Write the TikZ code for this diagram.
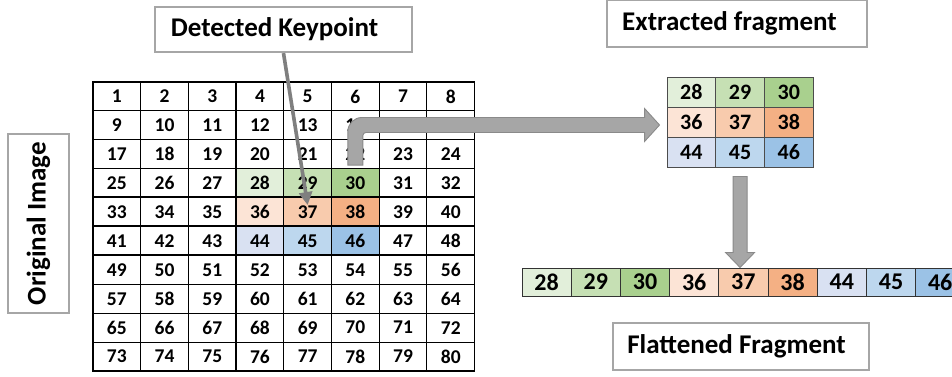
\documentclass[tikz,border=0pt]{standalone}
\usepackage{fontspec}
\setmainfont{Carlito}
\usetikzlibrary{calc,arrows.meta}
\definecolor{g1}{HTML}{E2EFDA}
\definecolor{g2}{HTML}{C6E0B4}
\definecolor{g3}{HTML}{A9D08E}
\definecolor{o1}{HTML}{FCE4D6}
\definecolor{o2}{HTML}{F8CBAD}
\definecolor{o3}{HTML}{F4B084}
\definecolor{b1}{HTML}{D9E1F2}
\definecolor{b2}{HTML}{BDD7EE}
\definecolor{b3}{HTML}{9BC2E6}
\definecolor{boxgray}{HTML}{A6A6A6}
\definecolor{arrfill}{HTML}{A6A6A6}
\definecolor{arredge}{HTML}{8A8A8A}
\definecolor{kpgray}{HTML}{7F7F7F}
\tikzset{
  cell/.style={draw=black, line width=1.1pt, inner sep=0pt, minimum width=47.7pt, minimum height=28.9pt, font=\bfseries\fontsize{19.5}{22}\selectfont},
  fcell/.style={draw=black!70, line width=0.9pt, inner sep=0pt, minimum width=48.7pt, minimum height=30pt, font=\bfseries\fontsize{22}{24}\selectfont},
  lcell/.style={draw=black!80, line width=1pt, inner sep=0pt, minimum width=49.2pt, minimum height=28pt, font=\bfseries\fontsize{24}{26}\selectfont},
  labelbox/.style={draw=boxgray, line width=2.2pt, fill=white, inner sep=0pt, font=\bfseries\fontsize{27}{30}\selectfont},
  blockarrow/.style={fill=arrfill, draw=arredge, line width=0.9pt},
  kparrow/.style={draw=kpgray, line width=3.6pt, -{Triangle[width=13pt,length=13pt]}},
  cellfill 28/.style={fill=g1}, cellfill 29/.style={fill=g2}, cellfill 30/.style={fill=g3},
  cellfill 36/.style={fill=o1}, cellfill 37/.style={fill=o2}, cellfill 38/.style={fill=o3},
  cellfill 44/.style={fill=b1}, cellfill 45/.style={fill=b2}, cellfill 46/.style={fill=b3},
}
\begin{document}
\begin{tikzpicture}[x=1pt,y=-1pt]
\clip (0,0) rectangle (952,376);
\fill[white] (0,0) rectangle (952,376);
% original grid
\foreach \r in {1,...,10}{
  \foreach \c in {1,...,8}{
    \pgfmathtruncatemacro\n{(\r-1)*8+\c}
    \node[cell, cellfill \n/.try] (c\n) at ({93+(\c-0.5)*47.7},{82+(\r-0.5)*28.9}) {\n};
  }
}
% thicker lines
\draw[line width=1.8pt] (c33.north west) -- (c40.north east);
\draw[line width=1.8pt] (c41.north west) -- (c48.north east);
\draw[line width=1.8pt] (c49.north west) -- (c56.north east);
\draw[line width=1.5pt] (c4.north west) -- (c76.south west);
% extracted fragment
\foreach \v [count=\i from 0] in {28,29,30,36,37,38,44,45,46}{
  \pgfmathtruncatemacro\cc{mod(\i,3)}
  \pgfmathtruncatemacro\rr{int(\i/3)}
  \node[fcell, cellfill \v/.try] (f\v) at ({667+(\cc+0.5)*48.7},{77+(\rr+0.5)*30}) {\v};
}
% flattened fragment
\foreach \v [count=\i from 0] in {28,29,30,36,37,38,44,45,46}{
  \node[lcell, cellfill \v/.try] (l\v) at ({522+(\i+0.5)*49.2},282) {\v};
}
% text boxes
\node[labelbox, minimum width=257pt, minimum height=45pt] (kp) at (283.5,29.5) {Detected Keypoint\kern18pt};
\node[labelbox, minimum width=260pt, minimum height=47pt] (ex) at (737,23.5) {Extracted fragment\kern15pt};
\node[labelbox, minimum width=256pt, minimum height=47pt] (fl) at (741,346.5) {Flattened Fragment\kern9pt};
\node[labelbox, rotate=90, minimum width=179pt, minimum height=61pt] (oi) at (38.5,223.5) {Original Image};
% bent block arrow from grid to extracted fragment
\coordinate (bA) at ($(c30.north)+(-7.5,-3)$);
\coordinate (bB) at ($(c30.north)+(7.5,-3)$);
\coordinate (tipA) at ($(f36.west)+(-7,3)$);
\coordinate (hU) at ($(tipA)+(-15,-7.5)$);
\coordinate (hL) at ($(tipA)+(-15,7.5)$);
\draw[blockarrow] (bA) [rounded corners=14pt] -- (bA |- hU) [sharp corners] -- (hU) -- ++(0,-9) -- (tipA) -- ($(hL)+(0,9)$) -- (hL) [rounded corners=3pt] -- (bB |- hL) [sharp corners] -- (bB) -- cycle;
% down block arrow from fragment to flattened
\coordinate (dT) at ($(f45.south)+(0,9)$);
\coordinate (dB) at (f45.south |- l37.north);
\draw[blockarrow] ($(dT)+(-7,0)$) -- ($(dB)+(-7,-15)$) -- ($(dB)+(-14.5,-15)$) -- (dB) -- ($(dB)+(14.5,-15)$) -- ($(dB)+(7,-15)$) -- ($(dT)+(7,0)$) -- cycle;
% keypoint arrow
\draw[kparrow] (kp.south) -- ($(c37.center)+(0,-7)$);
\end{tikzpicture}
\end{document}
